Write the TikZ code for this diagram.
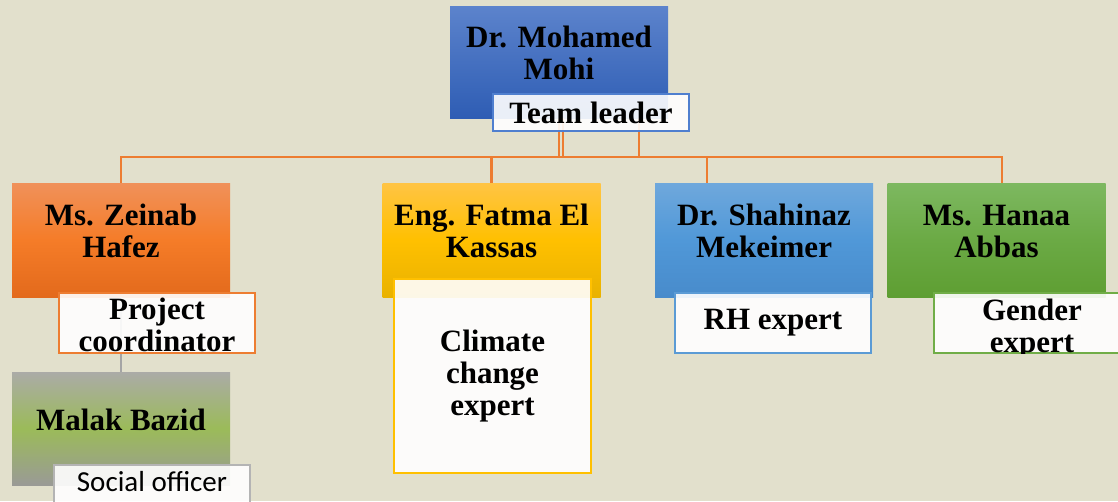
\documentclass[tikz,border=0pt]{standalone}
\usepackage{fontspec}
\setmainfont{Liberation Serif}
\newfontfamily\calibri{Carlito}
\usetikzlibrary{positioning}

\definecolor{bgbeige}{RGB}{226,224,204}
\definecolor{lineorange}{RGB}{237,125,49}
\definecolor{linegray}{RGB}{165,165,165}
\definecolor{rimblue}{RGB}{79,127,207}
\definecolor{rimorange}{RGB}{237,125,49}
\definecolor{rimyellow}{RGB}{255,192,0}
\definecolor{rimsky}{RGB}{91,155,213}
\definecolor{rimgreen}{RGB}{112,173,71}
\definecolor{rimgray}{RGB}{180,180,180}

\begin{document}
\begin{tikzpicture}[x=1pt, y=-1pt,
    person/.style={rectangle, minimum width=218pt, minimum height=114pt, inner sep=0pt,
                   align=center, text depth=18pt, font=\fontsize{31}{32}\selectfont\bfseries},
    rolebox/.style={rectangle, draw=#1, line width=1.5pt, fill=white, fill opacity=0.9,
                    text opacity=1, minimum width=196pt, inner sep=0pt, align=center,
                    font=\fontsize{31}{32}\selectfont\bfseries},
    roletext/.style={inner sep=0pt, align=center, font=\fontsize{31}{32}\selectfont\bfseries},
    conn/.style={draw=lineorange, line width=2.5pt}
]

    % Background
    \useasboundingbox (0,0) rectangle (1118,501);
    \fill[bgbeige] (0,0) rectangle (1118,501);
    \clip (0,0) rectangle (1118,501);

    % Team leader
    \node[person, minimum height=112pt, top color={rgb,255:red,92;green,131;blue,204},
          bottom color={rgb,255:red,46;green,93;blue,180}] (mohi) at (559,62) {Dr. Mohamed\\Mohi};

    % Team members
    \node[person, top color={rgb,255:red,240;green,145;blue,90}, bottom color={rgb,255:red,227;green,106;blue,28},
          middle color={rgb,255:red,245;green,124;blue,40}] (zeinab) at (121,240) {Ms. Zeinab\\Hafez};
    \node[person, top color={rgb,255:red,255;green,196;blue,68}, bottom color={rgb,255:red,233;green,178;blue,0},
          middle color={rgb,255:red,255;green,192;blue,0}] (fatma) at (491.5,240) {Eng. Fatma El\\Kassas};
    \node[person, top color={rgb,255:red,111;green,168;blue,220}, bottom color={rgb,255:red,72;green,139;blue,203},
          middle color={rgb,255:red,80;green,152;blue,216}] (shahinaz) at (764,240) {Dr. Shahinaz\\Mekeimer};
    \node[person, top color={rgb,255:red,125;green,184;blue,96}, bottom color={rgb,255:red,94;green,158;blue,50},
          middle color={rgb,255:red,107;green,170;blue,69}] (hanaa) at (996.5,240) {Ms. Hanaa\\Abbas};

    % Assistant of the coordinator
    \node[person, minimum height=113pt, top color={rgb,255:red,171;green,171;blue,167}, bottom color={rgb,255:red,154;green,154;blue,150},
          middle color={rgb,255:red,155;green,187;blue,89}] (malak) at (121,428.5) {Malak Bazid};

    % Connectors
    \draw[conn] (mohi.south) -- ++(0,39) -| (zeinab.north);
    \draw[conn] (mohi.south) -- ++(0,39) -| (fatma.north);
    \draw[conn] (mohi.south) -- ++(0,39) -| ([xshift=-57pt]shahinaz.north);
    \draw[conn] (mohi.south) -- ++(0,39) -| ([xshift=5.5pt]hanaa.north);
    \draw[conn] ([xshift=4pt]mohi.south) -- ++(0,39);
    \draw[conn] ([xshift=80pt]mohi.south) -- ++(0,39);
    \draw[conn, draw=linegray] (zeinab.south) -- (malak.north);

    % Roles
    \node[rolebox=rimblue, minimum height=37pt] (leader) at (591,112.5) {Team leader};
    \node[rolebox=rimorange, minimum height=60pt] (coord) at (157,323) {};
    \begin{scope}
        \clip (coord.south west) rectangle (coord.north east);
        \node[roletext] (coordtext) at ([yshift=-2pt]coord.center) {Project\\coordinator};
    \end{scope}
    \node[rolebox=rimyellow, minimum width=197pt, minimum height=194pt] (climate) at (492.5,376) {Climate\\change\\expert};
    \node[rolebox=rimsky, minimum height=60pt] (rh) at (773,323) {RH expert};
    \node[rolebox=rimgreen, minimum height=60pt] (gender) at (1032,323) {};
    \begin{scope}
        \clip (gender.south west) rectangle (gender.north east);
        \node[roletext] (gendertext) at ([yshift=-6pt]gender.center) {Gender\\expert};
    \end{scope}
    \node[rolebox=rimgray, minimum height=60pt, text depth=27pt, font=\calibri\fontsize{29}{32}\selectfont] (social) at (152,495) {Social officer};

\end{tikzpicture}
\end{document}
